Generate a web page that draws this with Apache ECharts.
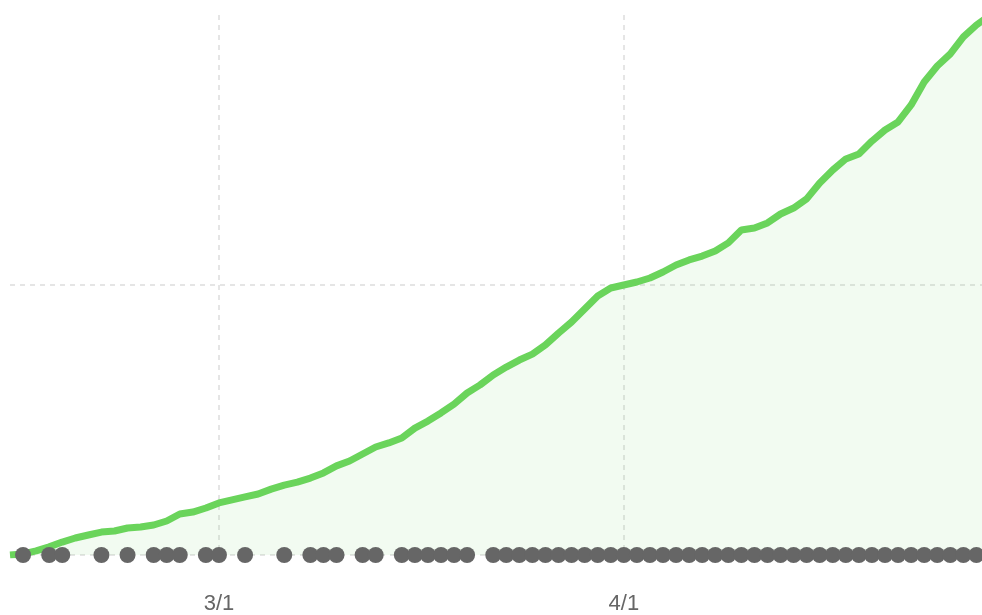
<!DOCTYPE html>
<html>
<head>
<meta charset="utf-8">
<script src="https://cdn.jsdelivr.net/npm/echarts@6/dist/echarts.min.js"></script>
<style>
  html, body { margin: 0; padding: 0; background: #fff; }
  #chart { width: 982px; height: 615px; }
</style>
</head>
<body>
<div id="chart"></div>
<script>
// days, 2/14 .. 4/29
const days = [
  '2/14','2/15','2/16','2/17','2/18','2/19','2/20','2/21','2/22','2/23','2/24','2/25','2/26','2/27','2/28','2/29',
  '3/1','3/2','3/3','3/4','3/5','3/6','3/7','3/8','3/9','3/10','3/11','3/12','3/13','3/14','3/15','3/16',
  '3/17','3/18','3/19','3/20','3/21','3/22','3/23','3/24','3/25','3/26','3/27','3/28','3/29','3/30','3/31',
  '4/1','4/2','4/3','4/4','4/5','4/6','4/7','4/8','4/9','4/10','4/11','4/12','4/13','4/14','4/15','4/16',
  '4/17','4/18','4/19','4/20','4/21','4/22','4/23','4/24','4/25','4/26','4/27','4/28','4/29'
]

// cumulative total (green line)
const totals = [
  0, 4, 15, 30, 48, 63, 74, 85, 89, 100, 104, 111, 126, 152, 159, 174,
  193, 204, 215, 226, 244, 259, 270, 285, 304, 330, 348, 374, 400, 415, 433, 470,
  496, 526, 559, 600, 630, 667, 696, 722, 744, 778, 822, 863, 911, 959, 989,
  1000, 1011, 1026, 1048, 1074, 1093, 1107, 1126, 1156, 1204, 1211, 1230, 1263, 1285, 1319, 1378,
  1426, 1467, 1485, 1533, 1574, 1604, 1667, 1752, 1811, 1856, 1919, 1963, 1998
]

// days with a marker on the baseline
const markedDays = [
  '2/15','2/17','2/18','2/21','2/23','2/25','2/26','2/27','2/29',
  '3/1','3/3','3/6','3/8','3/9','3/10','3/12','3/13',
  '3/15','3/16','3/17','3/18','3/19','3/20',
  '3/22','3/23','3/24','3/25','3/26','3/27','3/28','3/29','3/30','3/31',
  '4/1','4/2','4/3','4/4','4/5','4/6','4/7','4/8','4/9','4/10','4/11','4/12','4/13','4/14','4/15','4/16',
  '4/17','4/18','4/19','4/20','4/21','4/22','4/23','4/24','4/25','4/26','4/27','4/28','4/29'
]

const tickLabels = ['3/1', '4/1']

const chart = echarts.init(document.getElementById('chart'))
const showTick = (i) => tickLabels.indexOf(days[i]) >= 0
const dash = { color: '#ddd', width: 1.5, type: [5, 5] }

chart.setOption({
  backgroundColor: '#fff',
  animation: false,
  grid: { left: 10, top: 15, width: 979.5, height: 540, outerBoundsMode: 'none' },
  xAxis: {
    type: 'category',
    data: days,
    boundaryGap: false,
    axisLine: { show: false },
    axisTick: { show: false },
    axisLabel: {
      interval: (i) => showTick(i),
      color: '#666',
      fontSize: 22,
      fontFamily: 'Liberation Sans, Arial, sans-serif',
      margin: 38
    },
    splitLine: {
      show: true,
      interval: (i) => showTick(i),
      lineStyle: dash
    }
  },
  yAxis: {
    type: 'value',
    min: 0,
    max: 2000,
    interval: 1000,
    axisLine: { show: false },
    axisTick: { show: false },
    axisLabel: { show: false },
    splitLine: { show: true, showMaxLine: false, lineStyle: dash }
  },
  series: [
    {
      type: 'line',
      data: totals,
      showSymbol: false,
      lineStyle: { color: '#6ad45b', width: 7 },
      itemStyle: { color: '#6ad45b' },
      areaStyle: { color: 'rgba(106,212,91,0.12)' },
      z: 2
    },
    {
      type: 'scatter',
      data: markedDays.map(d => [d, 0]),
      symbolSize: 16,
      itemStyle: { color: '#666', opacity: 1 },
      clip: false,
      z: 3
    }
  ]
})
</script>
</body>
</html>
